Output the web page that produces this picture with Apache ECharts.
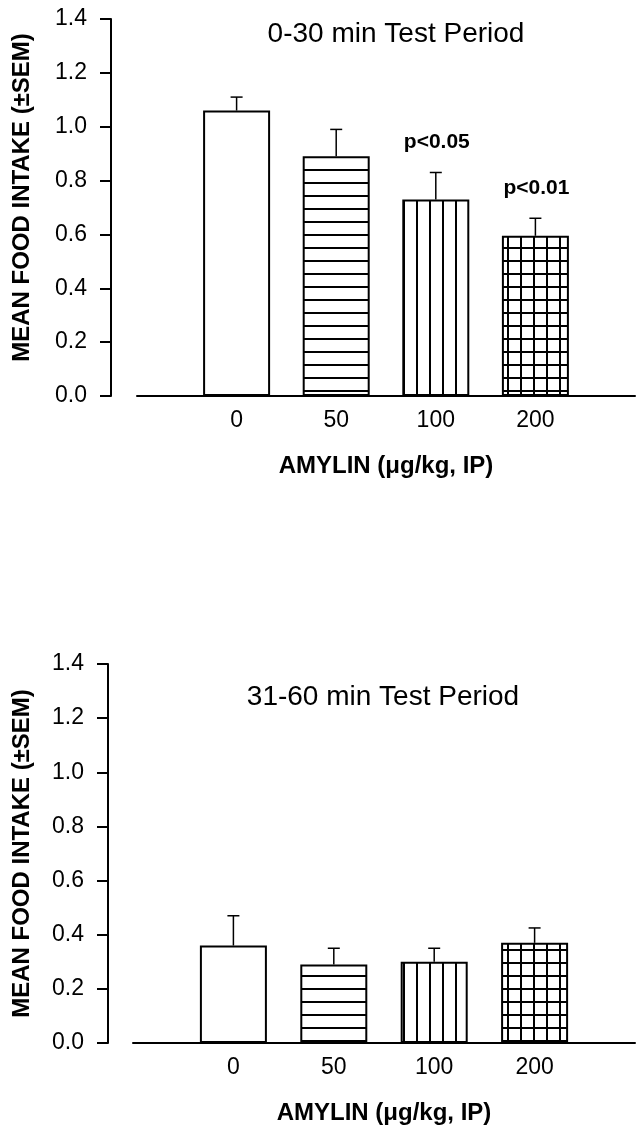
<!DOCTYPE html>
<html>
<head>
<meta charset="utf-8">
<script src="https://cdn.jsdelivr.net/npm/echarts@6/dist/echarts.min.js"></script>
<style>
  html, body { margin: 0; padding: 0; background: #fff; }
  #chart { width: 638px; height: 1131px; }
</style>
</head>
<body>
<div id="chart"></div>
<script>
// doses on the x axis (blank slots at both ends keep the gap before the first bar)
const doses = ['0', '50', '100', '200']
const categories = [''].concat(doses, [''])

// 0-30 min test period
const mean0to30 = [1.06, 0.89, 0.73, 0.595]
const sem0to30 = [0.05, 0.10, 0.10, 0.065]
const note0to30 = ['', '', 'p<0.05', 'p<0.01']

// 31-60 min test period
const mean31to60 = [0.36, 0.29, 0.30, 0.37]
const sem31to60 = [0.11, 0.06, 0.05, 0.055]

const yMin = 0
const yMax = 1.4
const yStep = 0.2

const fontFamily = 'Arial, "Liberation Sans", sans-serif'

function hatch(horiz, vert) {
  const size = 13
  const c = document.createElement('canvas')
  c.width = size
  c.height = size
  const ctx = c.getContext('2d')
  ctx.fillStyle = '#fff'
  ctx.fillRect(0, 0, size, size)
  ctx.fillStyle = '#000'
  if (horiz) ctx.fillRect(0, 0, size, 2)
  if (vert) ctx.fillRect(0, 0, 2, size)
  return { image: c, repeat: 'repeat' }
}
const fills = ['#fff', hatch(true, false), hatch(false, true), hatch(true, true)]

function xAxis(gridIndex) {
  return {
    type: 'category',
    gridIndex,
    data: categories,
    boundaryGap: false,
    name: 'AMYLIN (\u03BCg/kg, IP)',
    nameLocation: 'middle',
    nameGap: 58,
    nameTextStyle: { color: '#000', fontSize: 24, fontWeight: 'bold', fontFamily },
    axisLine: { lineStyle: { color: '#000', width: 2 } },
    axisTick: { show: false },
    axisLabel: { color: '#000', fontSize: 23, fontFamily, margin: 13 },
    splitLine: { show: false }
  }
}

function yAxis(gridIndex, offset, nameGap, namePad) {
  return {
    type: 'value',
    gridIndex,
    min: yMin,
    max: yMax,
    interval: yStep,
    offset,
    name: 'MEAN FOOD INTAKE (\u00B1SEM)',
    nameLocation: 'middle',
    nameGap,
    nameTextStyle: { color: '#000', fontSize: 24, fontWeight: 'bold', fontFamily, padding: [0, 0, 0, namePad] },
    axisLine: { show: true, lineStyle: { color: '#000', width: 2 } },
    axisTick: { show: true, length: 11, lineStyle: { color: '#000', width: 2 } },
    axisLabel: { color: '#000', fontSize: 23, fontFamily, margin: 24, formatter: v => v.toFixed(1) },
    splitLine: { show: false }
  }
}

function barSeries(means, idx) {
  return {
    type: 'bar',
    xAxisIndex: idx,
    yAxisIndex: idx,
    barWidth: 67,
    data: means.map((m, i) => ({
      value: [i + 1, m],
      itemStyle: { color: fills[i], borderColor: '#000', borderWidth: 2 }
    })),
    silent: true
  }
}

function errorSeries(means, sems, notes, idx) {
  return {
    type: 'custom',
    xAxisIndex: idx,
    yAxisIndex: idx,
    z: 5,
    silent: true,
    data: means.map((m, i) => [i + 1, m, m + sems[i]]),
    renderItem(params, api) {
      const base = api.coord([api.value(0), api.value(1)])
      const top = api.coord([api.value(0), api.value(2)])
      const stroke = { stroke: '#000', lineWidth: 1.5 }
      const children = [
        { type: 'line', shape: { x1: base[0], y1: base[1], x2: top[0], y2: top[1] }, style: stroke },
        { type: 'line', shape: { x1: top[0] - 6, y1: top[1], x2: top[0] + 6, y2: top[1] }, style: stroke }
      ]
      const note = notes ? notes[params.dataIndex] : ''
      if (note) {
        children.push({
          type: 'text',
          x: top[0] + 1,
          y: top[1] - 30,
          style: {
            text: note,
            fill: '#000',
            fontSize: 21,
            fontWeight: 'bold',
            fontFamily,
            align: 'center',
            verticalAlign: 'middle'
          }
        })
      }
      return { type: 'group', children }
    }
  }
}

const chart = echarts.init(document.getElementById('chart'))
chart.setOption({
  backgroundColor: '#fff',
  animation: false,
  title: [
    {
      text: '0-30 min Test Period',
      left: 396,
      top: 20,
      padding: 0,
      textAlign: 'center',
      textStyle: { color: '#000', fontSize: 28, fontWeight: 'normal', fontFamily }
    },
    {
      text: '31-60 min Test Period',
      left: 383,
      top: 683,
      padding: 0,
      textAlign: 'center',
      textStyle: { color: '#000', fontSize: 28, fontWeight: 'normal', fontFamily }
    }
  ],
  grid: [
    { left: 137, right: -4, top: 19, height: 377 },
    { left: 133, right: 0, top: 664, height: 379 }
  ],
  xAxis: [xAxis(0), xAxis(1)],
  yAxis: [yAxis(0, 26, 77, 20), yAxis(1, 25, 74, 0)],
  series: [
    barSeries(mean0to30, 0),
    errorSeries(mean0to30, sem0to30, note0to30, 0),
    barSeries(mean31to60, 1),
    errorSeries(mean31to60, sem31to60, null, 1)
  ]
})
</script>
</body>
</html>
